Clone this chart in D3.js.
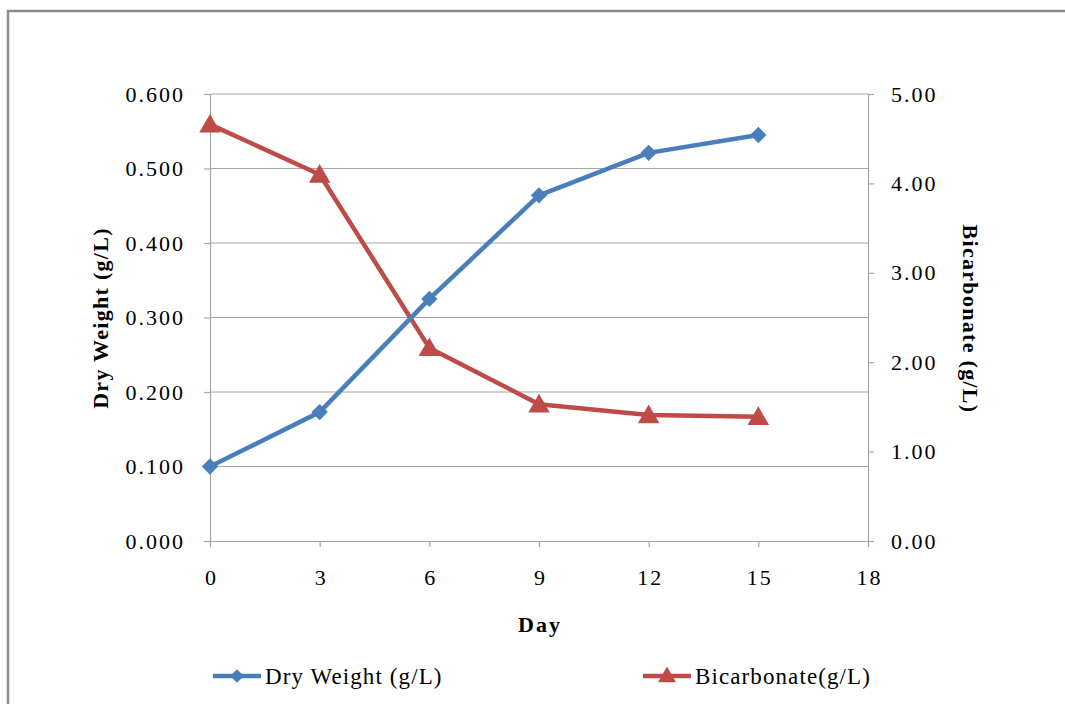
<!DOCTYPE html>
<html>
<head>
<meta charset="utf-8">
<script src="https://cdn.jsdelivr.net/npm/d3@7"></script>
<style>
  body { margin: 0; background: #fff; }
  text { font-family: "Liberation Serif", "Times New Roman", serif; fill: #000; }
</style>
</head>
<body>
<script>
// ---- data ----
let days        = [0, 3, 6, 9, 12, 15];
let dryWeight   = [0.100, 0.173, 0.325, 0.464, 0.521, 0.545];
let bicarbonate = [4.66, 4.10, 2.16, 1.53, 1.41, 1.39];
let xTicks      = [0, 3, 6, 9, 12, 15, 18];
let leftTicks   = [0, 0.1, 0.2, 0.3, 0.4, 0.5, 0.6];
let rightTicks  = [0, 1, 2, 3, 4, 5];

let w = 1065, h = 704;
let m = {left: 210, right: 868, top: 94, bottom: 541};
let blue = "#4a7ebb", red = "#be4b48", grid = "#a6a6a6";

let svg = d3.select("body").append("svg")
    .attr("width", w)
    .attr("height", h);

// outer chart frame (runs off right & bottom)
svg.append("rect")
    .attr("x", 8).attr("y", 11)
    .attr("width", w + 20).attr("height", h + 20)
    .attr("fill", "none")
    .attr("stroke", "#8c8c8c")
    .attr("stroke-width", 2.5);

let x  = d3.scaleLinear().domain([0, 18]).range([m.left, m.right]);
let yL = d3.scaleLinear().domain([0, 0.6]).range([m.bottom, m.top]);
let yR = d3.scaleLinear().domain([0, 5]).range([m.bottom, m.top]);

// horizontal gridlines
svg.append("g").selectAll("line")
    .data(leftTicks.slice(1))
    .enter().append("line")
    .attr("x1", m.left).attr("x2", m.right)
    .attr("y1", d => yL(d)).attr("y2", d => yL(d))
    .attr("stroke", grid).attr("stroke-width", 1.2);

// axes
let styleAxis = g => {
    g.select(".domain").attr("stroke", grid).attr("stroke-width", 1.2);
    g.selectAll(".tick line").attr("stroke", grid).attr("stroke-width", 1.2);
    g.selectAll(".tick text")
        .attr("font-size", "22px")
        .attr("letter-spacing", "2px")
        .attr("font-family", "Liberation Serif, serif")
        .attr("fill", "#000");
};

svg.append("g")
    .attr("transform", `translate(0,${m.bottom})`)
    .call(d3.axisBottom(x).tickValues(xTicks).tickFormat(d3.format("d"))
        .tickSizeInner(6).tickSizeOuter(0).tickPadding(22))
    .call(styleAxis)
    .selectAll(".tick text").attr("dx", "1px");

svg.append("g")
    .attr("transform", `translate(${m.left},0)`)
    .call(d3.axisLeft(yL).tickValues(leftTicks).tickFormat(d3.format(".3f"))
        .tickSizeInner(6).tickSizeOuter(0).tickPadding(19))
    .call(styleAxis);

svg.append("g")
    .attr("transform", `translate(${m.right},0)`)
    .call(d3.axisRight(yR).tickValues(rightTicks).tickFormat(d3.format(".2f"))
        .tickSizeInner(6).tickSizeOuter(0).tickPadding(17))
    .call(styleAxis);

// axis titles
svg.append("text")
    .attr("transform", "translate(108,318) rotate(-90)")
    .attr("text-anchor", "middle")
    .attr("font-size", "22px").attr("font-weight", "bold")
    .attr("letter-spacing", "1.3px")
    .text("Dry Weight (g/L)");

svg.append("text")
    .attr("transform", "translate(963,319) rotate(90)")
    .attr("text-anchor", "middle")
    .attr("font-size", "22px").attr("font-weight", "bold")
    .attr("letter-spacing", "1.3px")
    .text("Bicarbonate (g/L)");

svg.append("text")
    .attr("x", 540).attr("y", 632)
    .attr("text-anchor", "middle")
    .attr("font-size", "22px").attr("font-weight", "bold")
    .attr("letter-spacing", "2px")
    .text("Day");

// series
let diamond  = d3.symbol().type(d3.symbolDiamond2).size(170);
let triangle = d3.symbol().type(d3.symbolTriangle).size(200);

let lineL = d3.line().x((d, i) => x(days[i])).y(d => yL(d));
let lineR = d3.line().x((d, i) => x(days[i])).y(d => yR(d));

svg.append("path")
    .datum(bicarbonate)
    .attr("d", lineR)
    .attr("fill", "none").attr("stroke", red).attr("stroke-width", 4.5)
    .attr("stroke-linejoin", "round");

svg.append("g").selectAll("path")
    .data(bicarbonate)
    .enter().append("path")
    .attr("d", triangle)
    .attr("transform", (d, i) => `translate(${x(days[i])},${yR(d) + 2})`)
    .attr("fill", red);

svg.append("path")
    .datum(dryWeight)
    .attr("d", lineL)
    .attr("fill", "none").attr("stroke", blue).attr("stroke-width", 4.5)
    .attr("stroke-linejoin", "round");

svg.append("g").selectAll("path")
    .data(dryWeight)
    .enter().append("path")
    .attr("d", diamond)
    .attr("transform", (d, i) => `translate(${x(days[i])},${yL(d)})`)
    .attr("fill", blue);

// legend
let legend = [
    {name: "Dry Weight (g/L)",  color: blue, type: d3.symbolDiamond2, size: 120, dy: 0, x: 213},
    {name: "Bicarbonate(g/L)",  color: red,  type: d3.symbolTriangle, size: 140, dy: 1, x: 643}
];
let lg = svg.append("g").selectAll("g")
    .data(legend)
    .enter().append("g")
    .attr("transform", d => `translate(${d.x},676)`);

lg.append("line")
    .attr("x1", 0).attr("x2", 48)
    .attr("stroke", d => d.color).attr("stroke-width", 4.5);

lg.append("path")
    .attr("d", d => d3.symbol().type(d.type).size(d.size)())
    .attr("transform", d => `translate(24,${d.dy})`)
    .attr("fill", d => d.color);

lg.append("text")
    .attr("x", 52).attr("y", 8)
    .attr("font-size", "23px")
    .attr("letter-spacing", "1.1px")
    .text(d => d.name);
</script>
</body>
</html>
